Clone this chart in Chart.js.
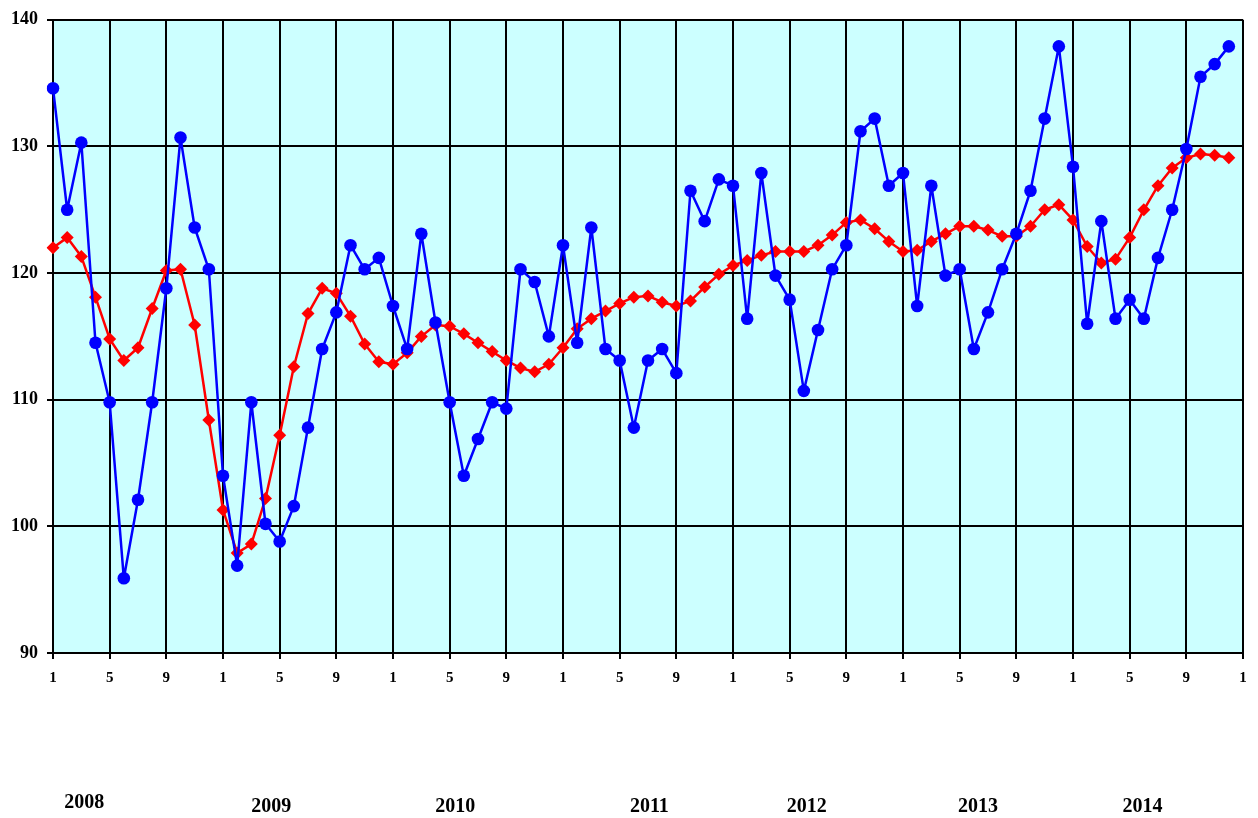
<!DOCTYPE html>
<html>
<head>
<meta charset="utf-8">
<script src="https://cdn.jsdelivr.net/npm/chart.js@4"></script>
<style>
  html, body { margin: 0; padding: 0; background: #ffffff; }
  #wrap { width: 1258px; height: 818px; }
</style>
</head>
<body>
<div id="wrap"><canvas id="chart"></canvas></div>
<script>
// month numbers Jan 2008 .. Jan 2015
const months = [1,2,3,4,5,6,7,8,9,10,11,12, 1,2,3,4,5,6,7,8,9,10,11,12,
                1,2,3,4,5,6,7,8,9,10,11,12, 1,2,3,4,5,6,7,8,9,10,11,12,
                1,2,3,4,5,6,7,8,9,10,11,12, 1,2,3,4,5,6,7,8,9,10,11,12,
                1,2,3,4,5,6,7,8,9,10,11,12, 1];

// monthly index (blue)
const monthly = [134.6,125.0,130.3,114.5,109.8,95.9,102.1,109.8,118.8,130.7,123.6,120.3,
                 104.0,96.9,109.8,100.2,98.8,101.6,107.8,114.0,116.9,122.2,120.3,121.2,
                 117.4,114.0,123.1,116.1,109.8,104.0,106.9,109.8,109.3,120.3,119.3,115.0,
                 122.2,114.5,123.6,114.0,113.1,107.8,113.1,114.0,112.1,126.5,124.1,127.4,
                 126.9,116.4,127.9,119.8,117.9,110.7,115.5,120.3,122.2,131.2,132.2,126.9,
                 127.9,117.4,126.9,119.8,120.3,114.0,116.9,120.3,123.1,126.5,132.2,137.9,
                 128.4,116.0,124.1,116.4,117.9,116.4,121.2,125.0,129.8,135.5,136.5,137.9];

// moving average (red)
const smoothed = [122.0,122.8,121.3,118.1,114.8,113.1,114.1,117.2,120.2,120.3,115.9,108.4,
                  101.3,97.9,98.6,102.2,107.2,112.6,116.8,118.8,118.4,116.6,114.4,113.0,
                  112.8,113.7,115.0,115.9,115.8,115.2,114.5,113.8,113.1,112.5,112.2,112.8,
                  114.1,115.6,116.4,117.0,117.6,118.1,118.2,117.7,117.4,117.8,118.9,119.9,
                  120.6,121.0,121.4,121.7,121.7,121.7,122.2,123.0,124.0,124.2,123.5,122.5,
                  121.7,121.8,122.5,123.1,123.7,123.7,123.4,122.9,122.9,123.7,125.0,125.4,
                  124.2,122.1,120.8,121.1,122.8,125.0,126.9,128.3,129.1,129.4,129.3,129.1];

const yearLabels = ['2008','2009','2010','2011','2012','2013','2014'];
const yearAt = [2.2, 15.4, 28.4, 42.1, 53.2, 65.3, 76.9];

const serif = '"Liberation Serif", "Times New Roman", serif';

const plotBg = {
    id: 'plotBg',
    beforeDraw(chart) {
        const {ctx, chartArea} = chart;
        ctx.save();
        ctx.fillStyle = '#ccffff';
        ctx.fillRect(chartArea.left, chartArea.top, chartArea.right - chartArea.left, chartArea.bottom - chartArea.top);
        ctx.restore();
    }
};

const years = {
    id: 'years',
    afterDraw(chart) {
        const ctx = chart.ctx;
        const x = chart.scales.x;
        ctx.save();
        ctx.fillStyle = '#000';
        ctx.font = 'bold 20px ' + serif;
        ctx.textAlign = 'center';
        ctx.textBaseline = 'middle';
        yearLabels.forEach((y, i) => {
            ctx.fillText(y, x.getPixelForValue(yearAt[i]), i === 0 ? 803 : 807);
        });
        ctx.restore();
    }
};

new Chart(document.getElementById('chart'), {
    type: 'line',
    data: {
        labels: months,
        datasets: [{
            data: monthly,
            borderColor: '#0000ff',
            backgroundColor: '#0000ff',
            borderWidth: 2.5,
            borderJoinStyle: 'round',
            pointStyle: 'circle',
            pointRadius: 6.3,
            pointBorderWidth: 0,
            pointHoverRadius: 6.3,
            tension: 0
        }, {
            data: smoothed,
            borderColor: '#ff0000',
            backgroundColor: '#ff0000',
            borderWidth: 2.5,
            borderJoinStyle: 'round',
            pointStyle: 'rectRot',
            pointRadius: 6.5,
            pointBorderWidth: 0,
            pointHoverRadius: 6.5,
            tension: 0
        }]
    },
    options: {
        responsive: true,
        maintainAspectRatio: false,
        animation: false,
        layout: { padding: { left: 0, right: 15, top: 18, bottom: 0 } },
        plugins: {
            legend: { display: false },
            tooltip: { enabled: false }
        },
        scales: {
            x: {
                offset: false,
                afterFit: s => { s.height = 165; },
                border: { color: '#000', width: 2 },
                grid: { color: '#000', lineWidth: 2, tickLength: 6 },
                ticks: {
                    autoSkip: false,
                    maxRotation: 0,
                    padding: 10,
                    color: '#000',
                    font: { family: serif, size: 15, weight: 'bold' },
                    callback: function(v, i) { return i % 4 === 0 ? this.getLabelForValue(v) : null; }
                }
            },
            y: {
                min: 90,
                max: 140,
                afterFit: s => { s.width = 53; },
                border: { color: '#000', width: 2 },
                grid: { color: '#000', lineWidth: 2, tickLength: 6 },
                ticks: {
                    stepSize: 10,
                    padding: 9,
                    color: '#000',
                    font: { family: serif, size: 18, weight: 'bold' }
                }
            }
        }
    },
    plugins: [plotBg, years]
});
</script>
</body>
</html>
